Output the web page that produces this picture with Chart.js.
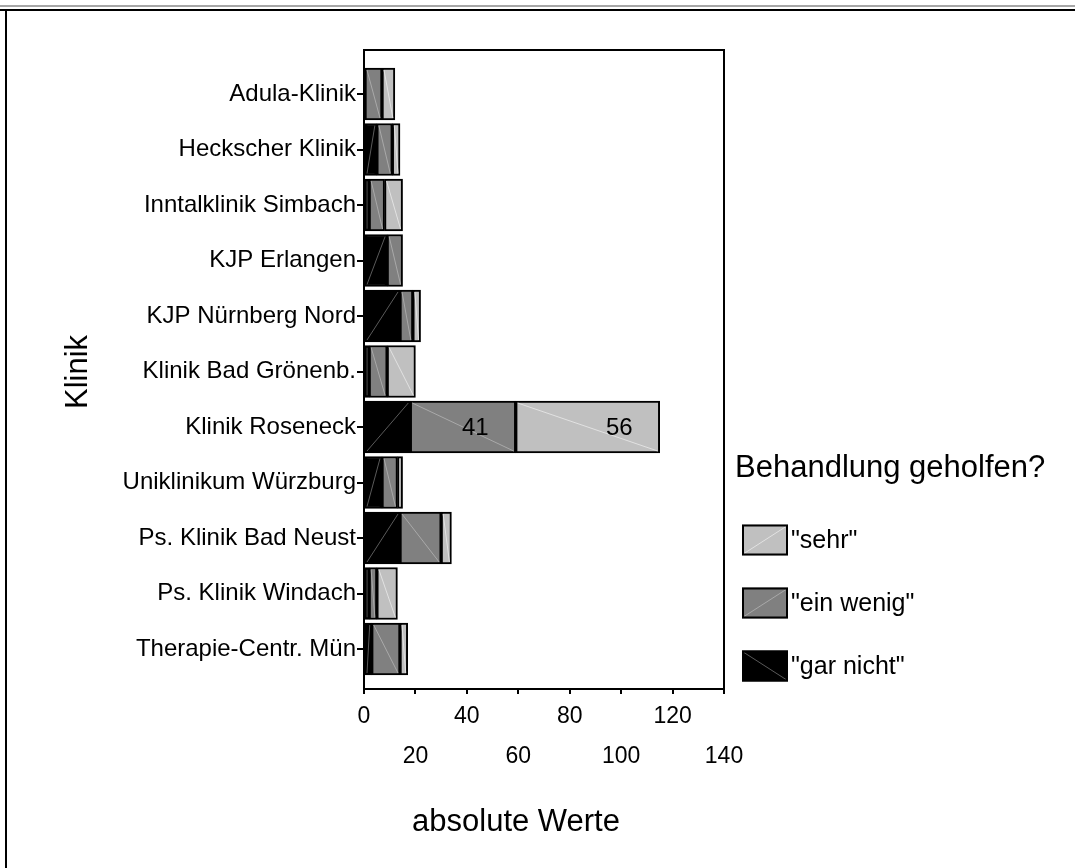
<!DOCTYPE html>
<html lang="de">
<head>
<meta charset="utf-8">
<title>Behandlung geholfen?</title>
<script src="https://cdn.jsdelivr.net/npm/chart.js@4.4.1/dist/chart.umd.min.js"></script>
<style>
  html, body { margin: 0; padding: 0; background: #fff; }
  #wrap { position: relative; width: 1075px; height: 868px; }
</style>
</head>
<body>
<div id="wrap"><canvas id="chart"></canvas></div>
<script>
var kliniken = [
  'Adula-Klinik',
  'Heckscher Klinik',
  'Inntalklinik Simbach',
  'KJP Erlangen',
  'KJP Nürnberg Nord',
  'Klinik Bad Grönenb.',
  'Klinik Roseneck',
  'Uniklinikum Würzburg',
  'Ps. Klinik Bad Neust',
  'Ps. Klinik Windach',
  'Therapie-Centr. Mün'
];
var garNicht = [0, 5, 2, 9, 14, 2, 18, 7, 14, 2, 3];
var einWenig = [7, 6, 6, 6, 5, 7, 41, 6, 16, 3, 11];
var sehr     = [5, 3, 7, 0, 3, 11, 56, 2, 4, 8, 3];
var xTicks = [0, 20, 40, 60, 80, 100, 120, 140];

(function () {
  'use strict';

  var FONT = "'Liberation Sans', Arial, Helvetica, sans-serif";

  var series = [
    { label: '"gar nicht"', values: garNicht, fill: '#000000', diag: '#5a5a5a', up: true },
    { label: '"ein wenig"', values: einWenig, fill: '#808080', diag: '#a9a9a9', up: false },
    { label: '"sehr"', values: sehr, fill: '#c0c0c0', diag: '#e2e2e2', up: false }
  ];

  function points(values) {
    return values.map(function (v, i) { return { x: v, y: i }; });
  }

  function diagonal(ctx, l, t, r, b, up, color) {
    if (r - l < 2) return;
    ctx.save();
    ctx.strokeStyle = color;
    ctx.lineWidth = 1;
    ctx.beginPath();
    if (up) { ctx.moveTo(l, b); ctx.lineTo(r, t); }
    else { ctx.moveTo(l, t); ctx.lineTo(r, b); }
    ctx.stroke();
    ctx.restore();
  }

  var extras = {
    id: 'extras',
    beforeDraw: function (chart) {
      var ctx = chart.ctx;
      ctx.save();
      ctx.fillStyle = '#a6a6a6';
      ctx.fillRect(0, 5, chart.width, 2);
      ctx.fillStyle = '#000';
      ctx.fillRect(0, 9, chart.width, 2);
      ctx.fillRect(5, 9, 2, chart.height - 9);
      ctx.restore();
    },
    afterDatasetsDraw: function (chart) {
      var ctx = chart.ctx;
      chart.data.datasets.forEach(function (ds, di) {
        var meta = chart.getDatasetMeta(di);
        meta.data.forEach(function (el, i) {
          var p = el.getProps(['x', 'y', 'base', 'height'], true);
          var l = Math.min(p.x, p.base) + 2, r = Math.max(p.x, p.base) - 2;
          var t = p.y - p.height / 2 + 2, b = p.y + p.height / 2 - 2;
          diagonal(ctx, l, t, r, b, series[di].up, series[di].diag);
          var v = ds.data[i].x;
          if (v >= 20 && di > 0) {
            ctx.save();
            ctx.fillStyle = '#000';
            ctx.font = '24px ' + FONT;
            ctx.textAlign = 'right';
            ctx.textBaseline = 'middle';
            ctx.fillText(String(v), Math.max(p.x, p.base) - 27, p.y + 1);
            ctx.restore();
          }
        });
      });
      var a = chart.chartArea;
      ctx.save();
      ctx.strokeStyle = '#000';
      ctx.lineWidth = 2;
      ctx.strokeRect(a.left, a.top, a.right - a.left, a.bottom - a.top);
      ctx.restore();
    },
    afterDraw: function (chart) {
      var ctx = chart.ctx;
      ctx.save();
      ctx.fillStyle = '#000';
      ctx.font = '31px ' + FONT;
      ctx.textAlign = 'center';
      ctx.textBaseline = 'middle';
      ctx.fillText('absolute Werte', 516, 822);
      ctx.save();
      ctx.translate(78, 372);
      ctx.rotate(-Math.PI / 2);
      ctx.fillText('Klinik', 0, 0);
      ctx.restore();

      // legend
      ctx.textAlign = 'left';
      ctx.font = '31px ' + FONT;
      ctx.fillText('Behandlung geholfen?', 735, 468);
      ctx.font = '25px ' + FONT;
      var order = [2, 1, 0];
      order.forEach(function (si, k) {
        var cy = 540 + k * 63;
        var x0 = 742, w = 46, h = 31, y0 = cy - h / 2;
        ctx.fillStyle = series[si].fill;
        ctx.fillRect(x0, y0, w, h);
        diagonal(ctx, x0 + 2, y0 + 2, x0 + w - 2, y0 + h - 2, si !== 0, series[si].diag);
        ctx.strokeStyle = '#000';
        ctx.lineWidth = 2;
        ctx.strokeRect(x0 + 1, y0 + 1, w - 2, h - 2);
        ctx.fillStyle = '#000';
        ctx.fillText(series[si].label, x0 + w + 3, cy + 1);
      });
      ctx.restore();
    }
  };

  new Chart(document.getElementById('chart'), {
    type: 'bar',
    data: {
      datasets: series.map(function (s) {
        return {
          label: s.label,
          data: points(s.values),
          backgroundColor: s.fill,
          borderColor: '#000',
          borderWidth: 2,
          borderSkipped: false,
          barThickness: 52
        };
      })
    },
    options: {
      responsive: true,
      maintainAspectRatio: false,
      animation: false,
      indexAxis: 'y',
      layout: { padding: { top: 50, right: 351, left: 0, bottom: 0 } },
      plugins: {
        legend: { display: false },
        tooltip: { enabled: false }
      },
      scales: {
        x: {
          type: 'linear',
          stacked: true,
          min: 0,
          max: 140,
          offset: false,
          afterFit: function (s) { s.height = 179; },
          afterBuildTicks: function (s) {
            s.ticks = xTicks.map(function (v) { return { value: v }; });
          },
          border: { display: false },
          grid: { offset: false, drawOnChartArea: false, drawTicks: true, tickLength: 5, color: '#000', lineWidth: 2 },
          ticks: {
            autoSkip: false,
            maxRotation: 0,
            padding: 3,
            color: '#000',
            font: { family: FONT, size: 23, lineHeight: '40px' },
            callback: function (v, i) {
              return i % 2 === 0 ? String(v) : ['', String(v)];
            }
          }
        },
        y: {
          type: 'linear',
          stacked: true,
          reverse: true,
          offset: false,
          min: -0.793,
          max: 10.72,
          afterFit: function (s) { s.width = 364; },
          afterBuildTicks: function (s) {
            s.ticks = kliniken.map(function (_, i) { return { value: i }; });
          },
          border: { display: false },
          grid: { offset: false, drawOnChartArea: false, drawTicks: true, tickLength: 7, color: '#000', lineWidth: 2 },
          ticks: {
            autoSkip: false,
            padding: 1,
            color: '#000',
            font: { family: FONT, size: 24 },
            callback: function (v) { return kliniken[v]; }
          }
        }
      }
    },
    plugins: [extras]
  });
})();
</script>
</body>
</html>
